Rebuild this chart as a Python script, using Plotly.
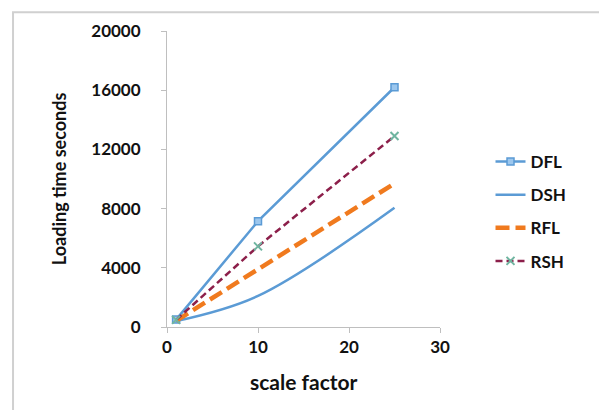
import plotly.graph_objects as go

scale = [1, 10, 25]
dfl = [500, 7150, 16200]
dsh = [400, 2100, 8050]
rfl = [420, 3900, 9700]
rsh = [480, 5450, 12900]

x_ticks = [0, 10, 20, 30]
y_ticks = [0, 4000, 8000, 12000, 16000, 20000]

FONT = "Lato"
blue = "#5B9BD5"
ink = "#111111"

fig = go.Figure()
fig.add_trace(go.Scatter(x=scale, y=dfl, name="DFL", legendgroup="a", mode="lines+markers",
                         line=dict(color=blue, width=2.5),
                         marker=dict(symbol="square", size=7, color="#9CC7EE",
                                     line=dict(color=blue, width=1.5))))
fig.add_trace(go.Scatter(x=scale, y=dsh, name="DSH", legendgroup="b", mode="lines",
                         line=dict(color=blue, width=2.5, shape="spline")))
fig.add_trace(go.Scatter(x=scale, y=rfl, name="RFL", legendgroup="c", mode="lines",
                         line=dict(color="#F07A1E", width=4.5, dash="14px,6px")))
fig.add_trace(go.Scatter(x=scale, y=rsh, name="RSH", legendgroup="d", mode="lines+markers",
                         line=dict(color="#8C1F4A", width=2.5, dash="7px,4px"),
                         marker=dict(symbol="x-thin", size=8, color="#6FB5A0",
                                     line=dict(color="#6FB5A0", width=2))))

axis_common = dict(showgrid=False, zeroline=False, showline=True,
                   linecolor="#BFBFBF", linewidth=1, ticks="outside",
                   tickcolor="#BFBFBF", ticklen=5,
                   tickfont=dict(family=FONT, size=17, color=ink, weight="bold"))

fig.update_xaxes(range=[0, 30], tickvals=x_ticks, ticktext=[str(v) for v in x_ticks],
                 **axis_common)
fig.update_yaxes(range=[0, 20000], tickvals=y_ticks, ticktext=[str(v) for v in y_ticks],
                 ticklabelstandoff=17, **axis_common)

fig.update_layout(
    width=607, height=410,
    margin=dict(l=159, r=175, t=17, b=91),
    paper_bgcolor="white", plot_bgcolor="white",
    showlegend=True,
    legend=dict(x=1.185, y=0.39, xanchor="left", yanchor="middle",
                font=dict(family=FONT, size=17, color=ink, weight="bold"),
                tracegroupgap=8, bgcolor="rgba(0,0,0,0)"),
    annotations=[
        dict(text="scale factor", x=0.5, y=-0.185, xref="paper", yref="paper",
             xanchor="center", yanchor="middle", showarrow=False,
             font=dict(family=FONT, size=21, color=ink, weight="bold")),
        dict(text="Loading time seconds", x=-0.395, y=0.5, xref="paper", yref="paper",
             xanchor="center", yanchor="middle", showarrow=False, textangle=-90,
             font=dict(family=FONT, size=18, color=ink, weight="bold")),
    ],
    shapes=[dict(type="rect", xref="paper", yref="paper",
                 x0=-0.564, x1=1.601, y0=-0.32, y1=1.063,
                 line=dict(color="#D0D0D0", width=2), layer="below")],
)

fig.write_html("out.html")
